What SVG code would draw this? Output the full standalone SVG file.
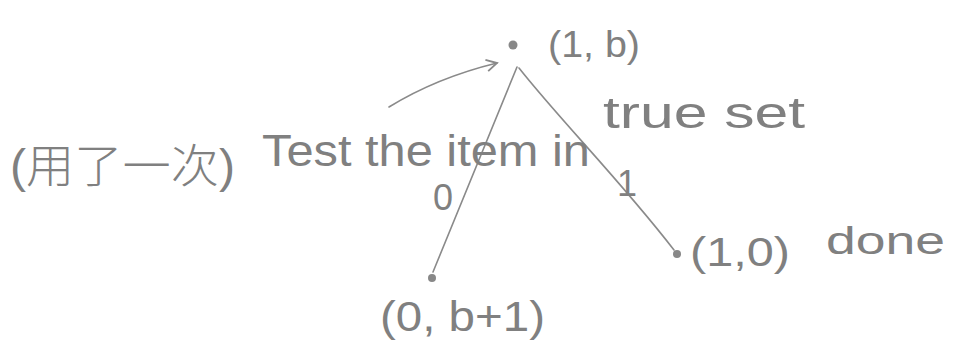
<svg xmlns="http://www.w3.org/2000/svg" width="962" height="349" viewBox="0 0 962 349">
<defs>
<style>
.t{font-family:"Liberation Sans","Noto Sans CJK SC",sans-serif;fill:#808080;font-weight:300}
.e{stroke:#8a8a8a;stroke-width:1.6;fill:none;stroke-linecap:round}
.d{fill:#888}
</style>
<marker id="ah" viewBox="0 0 12 12" refX="10" refY="6" markerWidth="14" markerHeight="14" markerUnits="userSpaceOnUse" orient="auto">
<path d="M1,1 L10,6 L1,11" fill="none" stroke="#8a8a8a" stroke-width="1.6"/>
</marker>
</defs>
<rect width="962" height="349" fill="#fff"/>
<g id="connectors">
<path class="e" d="M517,67 C500,110 470,180 433,272"/>
<path class="e" d="M519,68 C560,120 620,180 674,250"/>
<path class="e" d="M389,107 C420,88 460,72 497,63" marker-end="url(#ah)"/>
</g>
<g id="node-top">
<circle class="d" cx="513" cy="45" r="4.5"/>
<text class="t" x="548" y="57" font-size="36" textLength="92" lengthAdjust="spacingAndGlyphs">(1, b)</text>
</g>
<g id="node-left">
<circle class="d" cx="432" cy="278" r="4"/>
<text class="t" x="380" y="331" font-size="42" textLength="165" lengthAdjust="spacingAndGlyphs">(0, b+1)</text>
</g>
<g id="node-right">
<circle class="d" cx="677" cy="254" r="4"/>
<text class="t" x="690" y="266" font-size="40" textLength="100" lengthAdjust="spacingAndGlyphs">(1,0)</text>
<text class="t" x="826" y="254" font-size="38" textLength="119" lengthAdjust="spacingAndGlyphs">done</text>
</g>
<g id="edge-labels">
<text class="t" x="433" y="210" font-size="36">0</text>
<text class="t" x="617" y="196" font-size="36">1</text>
</g>
<g id="annotation">
<text class="t" x="10" y="182" font-size="46" textLength="225" lengthAdjust="spacingAndGlyphs">(用了一次)</text>
<text class="t" x="262" y="166" font-size="44" textLength="328" lengthAdjust="spacingAndGlyphs">Test the item in</text>
<text class="t" x="603" y="128" font-size="44" textLength="202" lengthAdjust="spacingAndGlyphs">true set</text>
</g>
</svg>
